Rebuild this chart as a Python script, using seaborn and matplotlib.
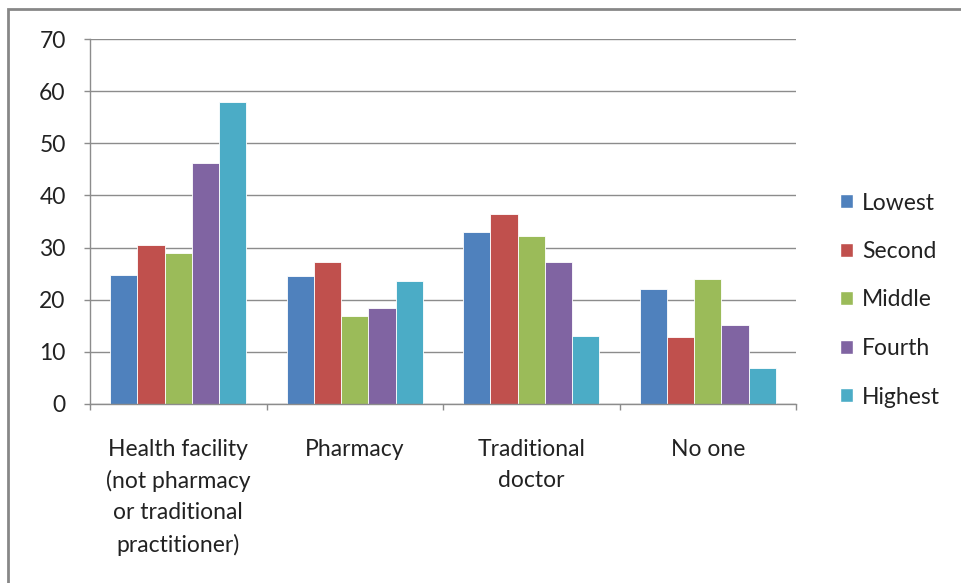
import matplotlib
matplotlib.use("Agg")
import matplotlib.pyplot as plt
import matplotlib.patches as mpatches
import numpy as np
import pandas as pd
import seaborn as sns

# Source of care by wealth quintile (%)
categories = [
    "Health facility\n(not pharmacy\nor traditional\npractitioner)",
    "Pharmacy",
    "Traditional\ndoctor",
    "No one",
]
quintiles = ["Lowest", "Second", "Middle", "Fourth", "Highest"]
lowest = [24.7, 24.5, 33.0, 22.1]
second = [30.4, 27.2, 36.5, 12.8]
middle = [28.9, 16.9, 32.2, 24.0]
fourth = [46.2, 18.4, 27.2, 15.2]
highest = [58.0, 23.5, 13.0, 7.0]
y_ticks = [0, 10, 20, 30, 40, 50, 60, 70]

palette = ["#4F81BD", "#C0504D", "#9BBB59", "#8064A2", "#4BACC6"]

series = [lowest, second, middle, fourth, highest]
df = pd.DataFrame(
    [(c, q, v) for q, vals in zip(quintiles, series) for c, v in zip(categories, vals)],
    columns=["category", "quintile", "value"],
)

sns.set_theme(style="white")
plt.rcParams["font.family"] = ["Lato", "DejaVu Sans"]

FS = 16.5
TXT = "#222222"

fig = plt.figure(figsize=(9.61, 5.83), dpi=100)
ax = fig.add_axes([90 / 961, 1 - 404 / 583, (796 - 90) / 961, (404 - 39) / 583])

sns.barplot(
    data=df, x="category", y="value", hue="quintile",
    order=categories, hue_order=quintiles, palette=palette,
    width=0.77, saturation=1, edgecolor="white", linewidth=0.6, ax=ax,
)

grid_c = "#8C8C8C"
ax.set_ylim(0, 70)
ax.set_xlim(-0.5, len(categories) - 0.5)
ax.set_yticks(y_ticks)
ax.yaxis.grid(True, color=grid_c, linewidth=1.0)
ax.set_axisbelow(True)
ax.set_xlabel("")
ax.set_ylabel("")

for side in ["top", "right"]:
    ax.spines[side].set_visible(False)
for side in ["left", "bottom"]:
    ax.spines[side].set_color(grid_c)
    ax.spines[side].set_linewidth(1.0)

ax.tick_params(axis="y", length=4.5, width=1.0, color=grid_c, direction="out",
               labelsize=FS, labelcolor=TXT, pad=13, left=True)
ax.tick_params(axis="x", which="major", length=0, labelsize=FS,
               labelcolor=TXT, pad=25)
ax.set_xticks(np.arange(-0.5, len(categories)), minor=True)
ax.tick_params(axis="x", which="minor", length=4.5, width=1.0, color=grid_c,
               direction="out", bottom=True)
for t in ax.get_xticklabels():
    t.set_linespacing(1.58)
    t.set_verticalalignment("top")

handles = [mpatches.Patch(facecolor=c, edgecolor="white", label=q)
           for c, q in zip(palette, quintiles)]
ax.get_legend().remove()
fig.legend(
    handles=handles, loc="center left", bbox_to_anchor=(840 / 961, 1 - 300 / 583),
    frameon=False, fontsize=FS, handlelength=0.55, handleheight=0.55,
    handletextpad=0.4, labelspacing=1.2, labelcolor=TXT,
    borderpad=0, borderaxespad=0,
)

# chart-area frame
fig.patches.append(mpatches.Rectangle(
    (8 / 961, -0.05), 1.2, 1 - 9 / 583 + 0.05, transform=fig.transFigure,
    fill=False, edgecolor="#878787", linewidth=2.0, zorder=0,
))

fig.savefig("out.png", dpi=100)
